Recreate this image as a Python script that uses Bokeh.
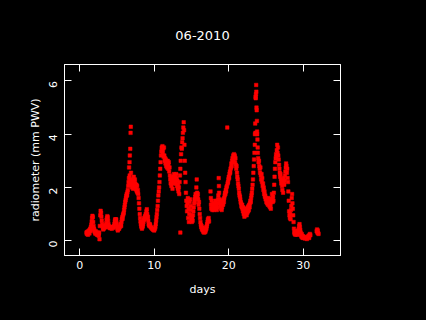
import math
from bokeh.plotting import figure
from bokeh.models import Range1d, FixedTicker, LinearAxis
from bokeh.embed import file_html
from bokeh.resources import INLINE

title_text = "06-2010"
x_label = "days"
y_label = "radiometer (mm PWV)"
x_ticks = [0, 10, 20, 30]
y_ticks = [0, 2, 4, 6]

days = [
    0.9, 0.95, 1.0, 1.05, 1.1, 1.15, 1.2, 1.25, 1.3, 1.35, 1.4, 1.45, 1.5, 1.55, 1.6, 1.65, 1.7, 1.75, 1.8, 1.85,
    1.9, 1.95, 2.0, 2.05, 2.1, 2.15, 2.2, 2.3, 2.4, 2.45, 2.5, 2.55, 2.6, 2.65, 2.7, 2.75, 2.8, 2.85, 2.9, 2.95,
    3.0, 3.05, 3.1, 3.15, 3.2, 3.25, 3.3, 3.35, 3.4, 3.45, 3.5, 3.55, 3.6, 3.65, 3.7, 3.75, 3.8, 3.85, 3.9, 3.95,
    4.0, 4.1, 4.2, 4.3, 4.4, 4.5, 4.6, 4.65, 4.7, 4.75, 4.8, 4.85, 4.9, 4.95, 5.0, 5.05, 5.1, 5.15, 5.2, 5.3,
    5.4, 5.45, 5.5, 5.55, 5.6, 5.65, 5.7, 5.75, 5.8, 5.85, 5.9, 5.95, 6.0, 6.05, 6.1, 6.15, 6.2, 6.25, 6.3, 6.35,
    6.4, 6.45, 6.5, 6.55, 6.6, 6.62, 6.65, 6.68, 6.7, 6.72, 6.75, 6.78, 6.8, 6.82, 6.85, 6.88, 6.9, 6.95, 7.0, 7.05,
    7.1, 7.15, 7.2, 7.25, 7.3, 7.35, 7.4, 7.45, 7.5, 7.55, 7.6, 7.65, 7.7, 7.75, 7.8, 7.85, 7.9, 7.95, 8.0, 8.05,
    8.1, 8.15, 8.2, 8.25, 8.3, 8.35, 8.4, 8.45, 8.5, 8.55, 8.6, 8.65, 8.7, 8.75, 8.8, 8.85, 8.9, 8.95, 9.0, 9.05,
    9.1, 9.15, 9.2, 9.25, 9.3, 9.35, 9.4, 9.45, 9.5, 9.6, 9.7, 9.8, 9.9, 10.0, 10.1, 10.15, 10.2, 10.25, 10.3, 10.35,
    10.4, 10.45, 10.5, 10.55, 10.6, 10.65, 10.7, 10.75, 10.8, 10.85, 10.9, 10.95, 11.0, 11.05, 11.1, 11.15, 11.2, 11.25, 11.3, 11.35,
    11.4, 11.45, 11.5, 11.55, 11.6, 11.65, 11.7, 11.75, 11.8, 11.85, 11.9, 11.95, 12.0, 12.05, 12.1, 12.15, 12.2, 12.25, 12.3, 12.35,
    12.4, 12.45, 12.5, 12.55, 12.6, 12.65, 12.7, 12.75, 12.8, 12.85, 12.9, 12.95, 13.0, 13.05, 13.1, 13.15, 13.2, 13.25, 13.3, 13.35,
    13.4, 13.45, 13.5, 13.5, 13.55, 13.6, 13.65, 13.7, 13.75, 13.8, 13.85, 13.9, 13.95, 14.0, 14.05, 14.1, 14.15, 14.2, 14.25, 14.3,
    14.35, 14.4, 14.45, 14.5, 14.55, 14.6, 14.65, 14.7, 14.75, 14.8, 14.85, 14.9, 14.95, 15.0, 15.05, 15.1, 15.15, 15.2, 15.25, 15.3,
    15.35, 15.4, 15.45, 15.5, 15.55, 15.6, 15.65, 15.7, 15.75, 15.8, 15.85, 15.9, 15.95, 16.0, 16.05, 16.1, 16.15, 16.2, 16.25, 16.3,
    16.35, 16.4, 16.45, 16.5, 16.55, 16.6, 16.65, 16.7, 16.75, 16.8, 16.85, 16.9, 16.95, 17.0, 17.05, 17.1, 17.15, 17.2, 17.25, 17.3,
    17.35, 17.55, 17.6, 17.62, 17.65, 17.7, 17.75, 17.8, 17.85, 17.9, 17.95, 18.0, 18.05, 18.1, 18.15, 18.2, 18.25, 18.3, 18.35, 18.4,
    18.45, 18.5, 18.55, 18.6, 18.65, 18.68, 18.7, 18.75, 18.8, 18.85, 18.9, 18.95, 19.0, 19.05, 19.1, 19.15, 19.2, 19.25, 19.3, 19.35,
    19.4, 19.45, 19.5, 19.55, 19.6, 19.65, 19.7, 19.75, 19.8, 19.85, 19.9, 19.95, 20.0, 20.05, 20.1, 20.15, 20.2, 20.25, 20.3, 20.35,
    20.4, 20.45, 20.5, 20.55, 20.6, 20.65, 20.7, 20.75, 20.8, 20.85, 20.9, 20.95, 21.0, 21.05, 21.1, 21.15, 21.2, 21.25, 21.3, 21.35,
    21.4, 21.45, 21.5, 21.55, 21.6, 21.65, 21.7, 21.75, 21.8, 21.85, 21.9, 21.95, 22.0, 22.05, 22.1, 22.15, 22.2, 22.25, 22.3, 22.35,
    22.4, 22.45, 22.5, 22.55, 22.6, 22.65, 22.7, 22.75, 22.8, 22.85, 22.9, 22.95, 23.0, 23.05, 23.1, 23.15, 23.2, 23.25, 23.3, 23.35,
    23.4, 23.45, 23.5, 23.52, 23.55, 23.58, 23.6, 23.62, 23.65, 23.68, 23.7, 23.72, 23.75, 23.78, 23.8, 23.82, 23.85, 23.88, 23.9, 23.95,
    24.0, 24.05, 24.1, 24.15, 24.2, 24.25, 24.3, 24.35, 24.4, 24.45, 24.5, 24.55, 24.6, 24.65, 24.7, 24.75, 24.8, 24.85, 24.9, 24.95,
    25.0, 25.05, 25.1, 25.15, 25.2, 25.25, 25.3, 25.35, 25.4, 25.45, 25.5, 25.55, 25.6, 25.65, 25.7, 25.75, 25.8, 25.85, 25.9, 25.95,
    26.0, 26.05, 26.1, 26.15, 26.2, 26.25, 26.3, 26.35, 26.4, 26.45, 26.5, 26.55, 26.6, 26.65, 26.7, 26.75, 26.8, 26.85, 26.9, 26.95,
    27.0, 27.05, 27.1, 27.15, 27.2, 27.25, 27.3, 27.35, 27.4, 27.45, 27.5, 27.55, 27.6, 27.65, 27.7, 27.75, 27.8, 27.85, 27.9, 27.95,
    28.0, 28.05, 28.1, 28.15, 28.2, 28.25, 28.3, 28.35, 28.4, 28.45, 28.5, 28.55, 28.6, 28.65, 28.7, 28.75, 28.8, 28.85, 28.9, 28.95,
    29.0, 29.05, 29.1, 29.15, 29.2, 29.25, 29.3, 29.35, 29.4, 29.45, 29.5, 29.55, 29.6, 29.65, 29.7, 29.75, 29.8, 29.85, 29.9, 29.95,
    30.0, 30.1, 30.2, 30.3, 30.4, 30.5, 30.6, 30.7, 30.8, 30.85, 30.9, 30.95, 31.8, 31.85, 31.9, 31.95, 32.0, 32.05,
]

pwv_mm = [
    0.30, 0.25, 0.33, 0.28, 0.22, 0.35, 0.30, 0.38, 0.27, 0.40, 0.45, 0.36, 0.52, 0.60, 0.72, 0.85, 0.93, 0.88, 0.70, 0.55,
    0.45, 0.40, 0.33, 0.30, 0.26, 0.35, 0.28, 0.22, 0.30, 0.20, 0.25, 0.18, 0.30, 0.05, 0.55, 0.95, 1.12, 1.05, 0.90, 0.75,
    0.62, 0.55, 0.48, 0.42, 0.45, 0.50, 0.48, 0.52, 0.55, 0.50, 0.58, 0.65, 0.78, 0.85, 0.92, 0.88, 0.75, 0.62, 0.55, 0.50,
    0.48, 0.46, 0.50, 0.45, 0.52, 0.48, 0.55, 0.62, 0.72, 0.80, 0.78, 0.70, 0.80, 0.65, 0.52, 0.45, 0.38, 0.42, 0.48, 0.45,
    0.52, 0.58, 0.62, 0.55, 0.70, 0.80, 0.88, 0.82, 0.95, 1.00, 1.05, 1.15, 1.25, 1.35, 1.45, 1.52, 1.60, 1.68, 1.75, 1.70,
    1.82, 1.90, 2.05, 2.20, 2.35, 2.75, 2.15, 2.95, 2.45, 3.20, 2.30, 3.45, 2.10, 4.05, 4.28, 2.55, 2.30, 2.10, 2.00, 2.20,
    2.05, 1.95, 2.15, 2.40, 2.25, 2.05, 2.30, 2.15, 2.00, 1.92, 2.10, 1.85, 2.05, 1.80, 1.90, 1.75, 1.60, 1.40, 1.20, 1.00,
    0.85, 0.72, 0.62, 0.55, 0.50, 0.45, 0.50, 0.55, 0.62, 0.70, 0.78, 0.85, 0.80, 0.92, 0.88, 1.00, 0.95, 1.10, 1.18, 1.00,
    0.85, 0.90, 0.75, 0.62, 0.58, 0.55, 0.62, 0.58, 0.52, 0.48, 0.45, 0.42, 0.40, 0.38, 0.45, 0.52, 0.62, 0.75, 0.88, 1.00,
    1.15, 1.30, 1.50, 1.70, 1.85, 2.00, 2.20, 2.45, 2.70, 2.95, 3.20, 3.35, 3.50, 3.40, 3.55, 3.30, 3.45, 3.15, 3.50, 3.20,
    3.00, 3.10, 2.90, 3.05, 2.80, 2.95, 2.75, 2.85, 3.00, 2.70, 2.85, 2.95, 2.60, 2.75, 2.45, 2.30, 2.15, 2.35, 2.05, 2.20,
    2.30, 1.95, 2.25, 2.40, 2.15, 2.50, 2.35, 2.20, 2.45, 2.30, 2.15, 2.50, 2.35, 2.05, 2.25, 1.95, 2.10, 1.85, 2.00, 1.75,
    2.20, 2.45, 2.70, 0.30, 3.00, 3.25, 3.50, 3.45, 3.70, 3.85, 4.05, 4.25, 4.45, 4.15, 3.60, 3.00, 2.55, 2.20, 1.80, 1.50,
    1.30, 1.10, 1.40, 1.60, 0.85, 1.20, 0.70, 1.00, 1.45, 1.55, 1.30, 1.15, 0.95, 0.80, 0.70, 0.85, 0.75, 0.95, 1.10, 1.25,
    1.40, 1.55, 1.45, 1.65, 1.75, 1.60, 2.00, 2.30, 1.80, 1.65, 1.75, 1.55, 1.35, 1.45, 1.20, 1.00, 0.85, 0.70, 0.60, 0.50,
    0.55, 0.42, 0.48, 0.38, 0.45, 0.32, 0.40, 0.30, 0.35, 0.42, 0.32, 0.38, 0.50, 0.45, 0.55, 0.62, 0.70, 0.80, 0.75, 0.85,
    0.72, 1.85, 1.60, 1.35, 1.20, 1.50, 1.30, 1.15, 1.25, 1.40, 1.20, 1.15, 1.30, 1.20, 1.35, 1.50, 1.20, 1.45, 1.30, 1.15,
    1.25, 1.40, 1.55, 1.70, 2.35, 2.05, 1.80, 1.55, 1.40, 1.50, 1.30, 1.20, 1.35, 1.15, 1.25, 1.40, 1.50, 1.35, 1.55, 1.45,
    1.60, 1.70, 1.80, 1.75, 1.90, 1.85, 2.00, 2.05, 4.25, 2.15, 2.20, 2.30, 2.40, 2.35, 2.50, 2.60, 2.55, 2.70, 2.75, 2.90,
    2.80, 3.00, 3.10, 2.95, 3.20, 3.05, 3.25, 3.15, 3.20, 2.95, 3.10, 2.85, 2.70, 2.80, 2.55, 2.40, 2.30, 2.15, 2.05, 1.95,
    1.80, 1.70, 1.65, 1.55, 1.45, 1.40, 1.30, 1.25, 1.35, 1.20, 1.10, 1.25, 1.00, 1.15, 0.90, 1.05, 0.95, 1.20, 1.00, 1.10,
    0.95, 1.20, 1.05, 1.25, 1.10, 1.30, 1.15, 1.35, 1.25, 1.40, 1.50, 1.45, 1.60, 1.70, 1.80, 1.95, 2.10, 2.30, 2.55, 2.80,
    3.05, 3.30, 3.60, 4.00, 4.40, 4.05, 5.40, 5.35, 5.50, 5.85, 5.60, 5.00, 4.90, 4.50, 4.10, 4.00, 3.80, 3.50, 3.30, 3.10,
    2.95, 3.00, 2.80, 2.70, 2.55, 2.75, 2.45, 2.30, 2.50, 2.20, 2.35, 2.05, 2.15, 1.90, 2.00, 1.75, 1.85, 1.65, 1.70, 1.55,
    1.60, 1.45, 1.55, 1.40, 1.50, 1.35, 1.60, 1.45, 1.55, 1.30, 1.40, 1.25, 1.35, 1.20, 1.45, 1.55, 1.75, 1.60, 1.45, 1.65,
    1.50, 1.80, 2.10, 2.40, 2.70, 2.95, 3.10, 3.25, 3.15, 3.40, 3.60, 3.30, 3.50, 3.20, 3.05, 2.85, 2.70, 2.55, 2.40, 2.50,
    2.30, 2.15, 2.25, 2.05, 1.90, 2.15, 1.80, 2.20, 2.35, 2.10, 2.25, 2.45, 2.60, 2.75, 2.90, 2.80, 2.55, 2.70, 2.35, 2.20,
    1.85, 1.50, 1.10, 0.95, 0.85, 1.00, 0.80, 1.15, 1.30, 1.60, 1.75, 1.40, 1.20, 0.95, 0.70, 0.45, 0.30, 0.25, 0.35, 0.22,
    0.30, 0.25, 0.35, 0.28, 0.22, 0.30, 0.38, 0.32, 0.45, 0.55, 0.62, 0.50, 0.40, 0.30, 0.20, 0.15, 0.25, 0.12, 0.18, 0.10,
    0.15, 0.12, 0.08, 0.14, 0.10, 0.06, 0.12, 0.18, 0.10, 0.22, 0.25, 0.20, 0.35, 0.42, 0.30, 0.38, 0.28, 0.25,
]

FONT = "DejaVu Sans"
WHITE = "#ffffff"
BLACK = "#000000"

p = figure(
    width=426, height=320,
    x_range=Range1d(-2.05, 35.0), y_range=Range1d(-0.56, 6.62),
    output_backend="svg", toolbar_location=None,
    min_border_left=64, min_border_right=86, min_border_top=64, min_border_bottom=65,
    background_fill_color=BLACK, border_fill_color=BLACK,
    title=title_text,
)
p.outline_line_color = WHITE
p.outline_line_width = 1
p.grid.visible = False

p.title.text_color = WHITE
p.title.text_font = FONT
p.title.text_font_size = "13px"
p.title.text_font_style = "normal"
p.title.align = "center"
p.title.standoff = 49

for ax in (p.xaxis[0], p.yaxis[0]):
    ax.axis_line_color = WHITE
    ax.major_tick_line_color = WHITE
    ax.major_tick_in = 7
    ax.major_tick_out = 0
    ax.minor_tick_line_color = None
    ax.major_label_text_color = WHITE
    ax.major_label_text_font = FONT
    ax.major_label_text_font_size = "11px"
    ax.axis_label_text_color = WHITE
    ax.axis_label_text_font = FONT
    ax.axis_label_text_font_size = "11px"
    ax.axis_label_text_font_style = "normal"

p.xaxis[0].ticker = FixedTicker(ticks=x_ticks)
p.yaxis[0].ticker = FixedTicker(ticks=y_ticks)
p.xaxis[0].axis_label = x_label
p.yaxis[0].axis_label = y_label
p.xaxis[0].major_label_standoff = 5
p.xaxis[0].axis_label_standoff = 11
p.yaxis[0].major_label_standoff = 11
p.yaxis[0].axis_label_standoff = 1
p.yaxis[0].major_label_orientation = math.pi / 2

top_ax = LinearAxis(ticker=FixedTicker(ticks=x_ticks))
right_ax = LinearAxis(ticker=FixedTicker(ticks=y_ticks))
for ax in (top_ax, right_ax):
    ax.axis_line_color = WHITE
    ax.major_tick_line_color = WHITE
    ax.major_tick_in = 7
    ax.major_tick_out = 0
    ax.minor_tick_line_color = None
    ax.major_label_text_font_size = "0px"
    ax.major_label_text_color = None
    ax.major_label_standoff = 0
p.add_layout(top_ax, "above")
p.add_layout(right_ax, "right")

p.scatter(days, pwv_mm, marker="square", size=3.5, fill_color="#ff0000", line_color="#ff0000", line_width=0.5)

html = file_html(p, INLINE, template="{% block preamble %}<style>html, body { background: #000000; }</style>{% endblock %}")
open("out.html", "w").write(html)
